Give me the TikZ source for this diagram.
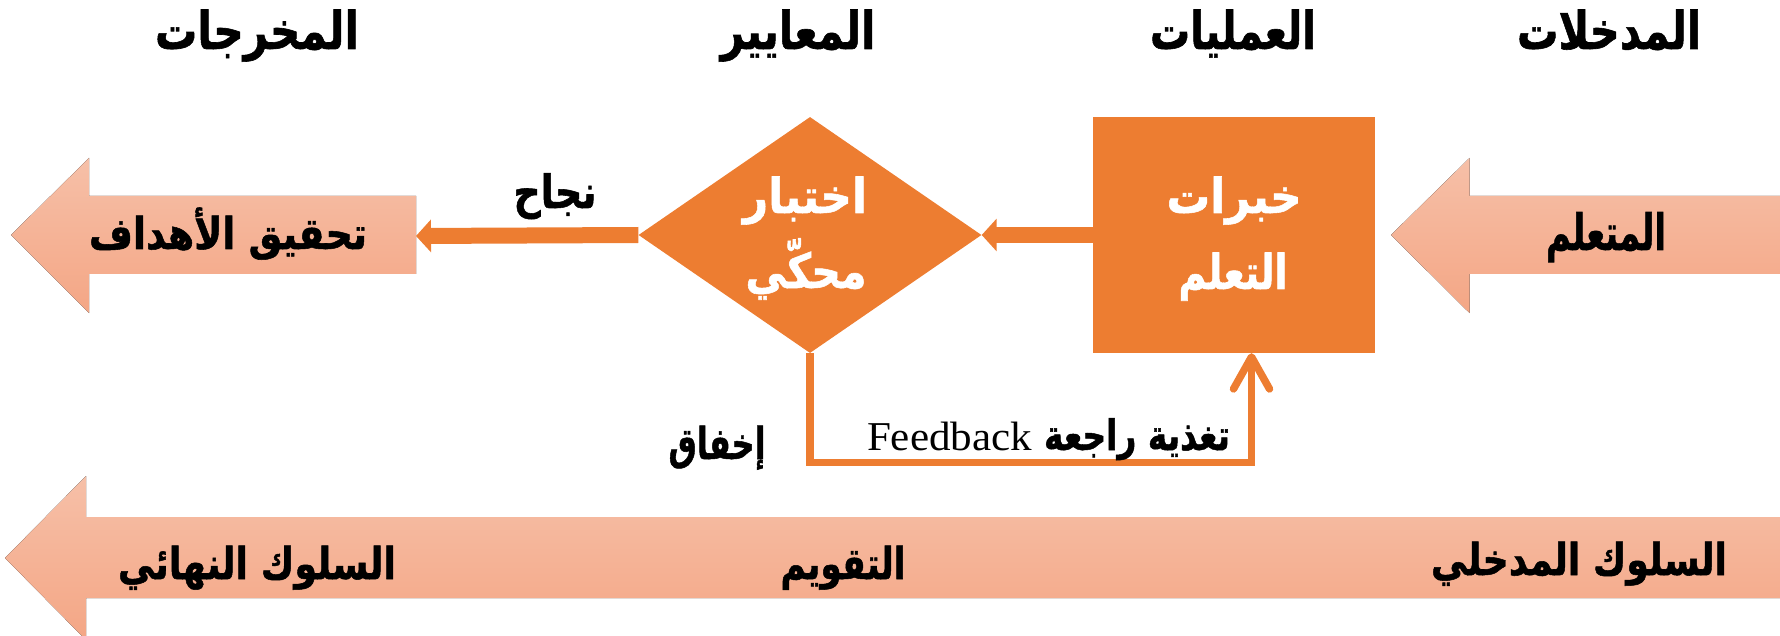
\documentclass[tikz,border=0pt]{standalone}
\usepackage{fontspec}
\usepackage{graphicx}
\usetikzlibrary{arrows.meta,shapes.geometric}
\TeXXeTstate=1
\newfontfamily\arabicfont[Script=Arabic,BoldFeatures={FakeBold=1.2}]{DejaVu Sans}
\newfontfamily\latinserif{Liberation Serif}
\definecolor{orng}{HTML}{ED7D31}
\definecolor{salmonT}{HTML}{F6C0A8}
\definecolor{salmonB}{HTML}{F4A685}
\newcommand{\artxt}[3]{\resizebox{#1}{\height}{\arabicfont\bfseries\fontsize{#2}{#2}\selectfont #3}}
\begin{document}
\begin{tikzpicture}[x=1pt,y=-1pt,
  txt/.style={inner sep=0pt,anchor=base},
  bigarrow/.style={top color=salmonT,bottom color=salmonB,draw=none},
  conn/.style={draw=orng,line width=16pt,-{Triangle[length=15pt,width=32pt]}},
  fb/.style={draw=orng,line width=7.5pt,-{Straight Barb[length=32pt,width=36pt,round]}}]
\useasboundingbox (0,0) rectangle (1780,636);
\clip (0,0) rectangle (1780,636);
% big arrows
\fill[bigarrow] (11,235) -- (89,158) -- (89,196) -- (416,196) -- (416,274) -- (89,274) -- (89,313) -- cycle;
\coordinate (goalR) at (416,236);
\fill[bigarrow] (1391,235) -- (1469.5,158) -- (1469.5,196) -- (1780,196) -- (1780,274) -- (1469.5,274) -- (1469.5,313) -- cycle;
\fill[bigarrow] (5,558) -- (86,476) -- (86,517) -- (1780,517) -- (1780,598) -- (86,598) -- (86,640) -- cycle;
% shapes
\node[diamond, fill=orng, minimum width=343pt, minimum height=236pt, inner sep=0pt] (dia) at (810,235) {};
\node[fill=orng, minimum width=282pt, minimum height=236pt, inner sep=0pt] (rect) at (1234,235) {};
% connectors
\draw[conn] (dia.west) -- (goalR);
\draw[conn] (rect.west) -- (dia.east);
\coordinate (fbc) at (1251.5,462.5);
\draw[fb] (dia.south) |- (fbc) -- (fbc |- rect.south);
% headers
\node[txt] (hOut) at (257,49) {\artxt{204pt}{52}{\beginR المخرجات\endR}};
\node[txt] (hCrit) at (798,49) {\artxt{155pt}{52}{\beginR المعايير\endR}};
\node[txt] (hProc) at (1233,49) {\artxt{166pt}{52}{\beginR العمليات\endR}};
\node[txt] (hIn) at (1609,49) {\artxt{184pt}{52}{\beginR المدخلات\endR}};
% arrow texts
\node[txt] (tGoal) at (228,249) {\artxt{278pt}{44}{\beginR تحقيق الأهداف\endR}};
\node[txt] (tLearner) at (1606,250) {\artxt{120pt}{50}{\beginR المتعلم\endR}};
\node[txt] (tPass) at (555,208) {\artxt{83pt}{46}{\beginR نجاح\endR}};
\node[txt,text=white] (tTest1) at (805,213) {\artxt{124pt}{48}{\beginR اختبار\endR}};
\node[txt,text=white] (tTest2) at (806,288) {\artxt{121pt}{48}{\beginR محكّي\endR}};
\node[txt,text=white] (tExp1) at (1234,213) {\artxt{135pt}{48}{\beginR خبرات\endR}};
\node[txt,text=white] (tExp2) at (1233,289) {\artxt{109pt}{48}{\beginR التعلم\endR}};
\node[txt] (tFail) at (717,459) {\artxt{97pt}{44}{\beginR إخفاق\endR}};
\node[txt] (tFbAr) at (1137,450) {\artxt{186pt}{42}{\beginR تغذية راجعة\endR}};
\node[txt] (tFbEn) at (949.5,450) {\resizebox{165pt}{\height}{\latinserif\fontsize{41}{41}\selectfont Feedback}};
% bottom texts
\node[txt] (tFinal) at (257,579) {\artxt{278pt}{44}{\beginR السلوك النهائي\endR}};
\node[txt] (tEval) at (843,579) {\artxt{125pt}{44}{\beginR التقويم\endR}};
\node[txt] (tEntry) at (1579,575) {\artxt{296pt}{44}{\beginR السلوك المدخلي\endR}};
\end{tikzpicture}
\end{document}
